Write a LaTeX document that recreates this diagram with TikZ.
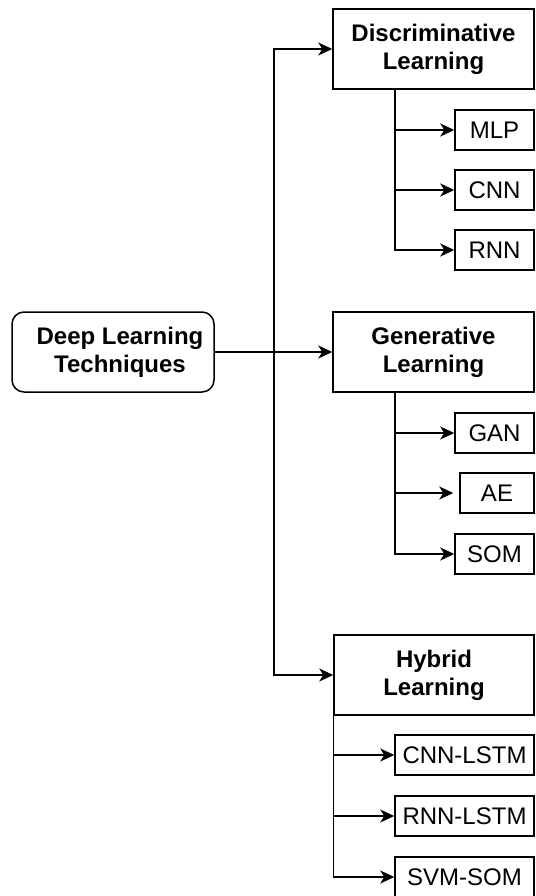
\documentclass[tikz,border=0pt]{standalone}
\usepackage{fontspec}
\setmainfont{Liberation Sans}
\usetikzlibrary{arrows.meta}
\begin{document}
\begin{tikzpicture}[x=1pt,y=-1pt,
 box/.style={draw, line width=1.5pt, inner sep=0pt, align=center, font=\fontsize{24}{28}\selectfont},
 main/.style={box, font=\bfseries\fontsize{24}{28}\selectfont, minimum width=201pt, minimum height=80pt},
 leaf/.style={box, minimum height=40pt},
 conn/.style={line width=1.5pt, -{Stealth[length=14pt,width=13pt,inset=4pt]}}]
\useasboundingbox (0,0) rectangle (535,896);
\node[main, rounded corners=12pt, minimum width=202pt] (root) at (113,352) {\hspace*{14pt}Deep Learning\\\hspace*{14pt}Techniques};
\node[main] (disc) at (433.5,49) {Discriminative\\Learning};
\node[main] (gen) at (433.5,352) {Generative\\Learning};
\node[main, minimum width=200pt] (hyb) at (434,675) {Hybrid\\Learning};
\node[leaf, minimum width=79pt] (mlp) at (494.5,130) {MLP};
\node[leaf, minimum width=79pt] (cnn) at (494.5,190) {CNN};
\node[leaf, minimum width=79pt] (rnn) at (494.5,250) {RNN};
\node[leaf, minimum width=79pt] (gan) at (494.5,433) {GAN};
\node[leaf, minimum width=74pt] (ae) at (497,493) {AE};
\node[leaf, minimum width=79pt] (som) at (494.5,554) {SOM};
\node[leaf, minimum width=139pt] (cl) at (464.5,755) {CNN-LSTM};
\node[leaf, minimum width=139pt] (rl) at (464.5,816) {RNN-LSTM};
\node[leaf, minimum width=139pt] (ss) at (464.5,877) {SVM-SOM};
\coordinate (j) at (274,352);
\draw[conn] (root.east) -- (gen.west);
\draw[conn] (j) |- (disc.west);
\draw[conn] (j) |- (hyb.west);
\draw[conn] (395,0 |- disc.south) |- (mlp.west);
\draw[conn] (395,0 |- disc.south) |- (cnn.west);
\draw[conn] (395,0 |- disc.south) |- (rnn.west);
\draw[conn] (395,0 |- gen.south) |- (gan.west);
\draw[conn, shorten >=6pt] (395,0 |- gen.south) |- (ae.west);
\draw[conn] (395,0 |- gen.south) |- (som.west);
\draw[conn] (hyb.south west) |- (cl.west);
\draw[conn] (hyb.south west) |- (rl.west);
\draw[conn] (hyb.south west) |- (ss.west);
\end{tikzpicture}
\end{document}
